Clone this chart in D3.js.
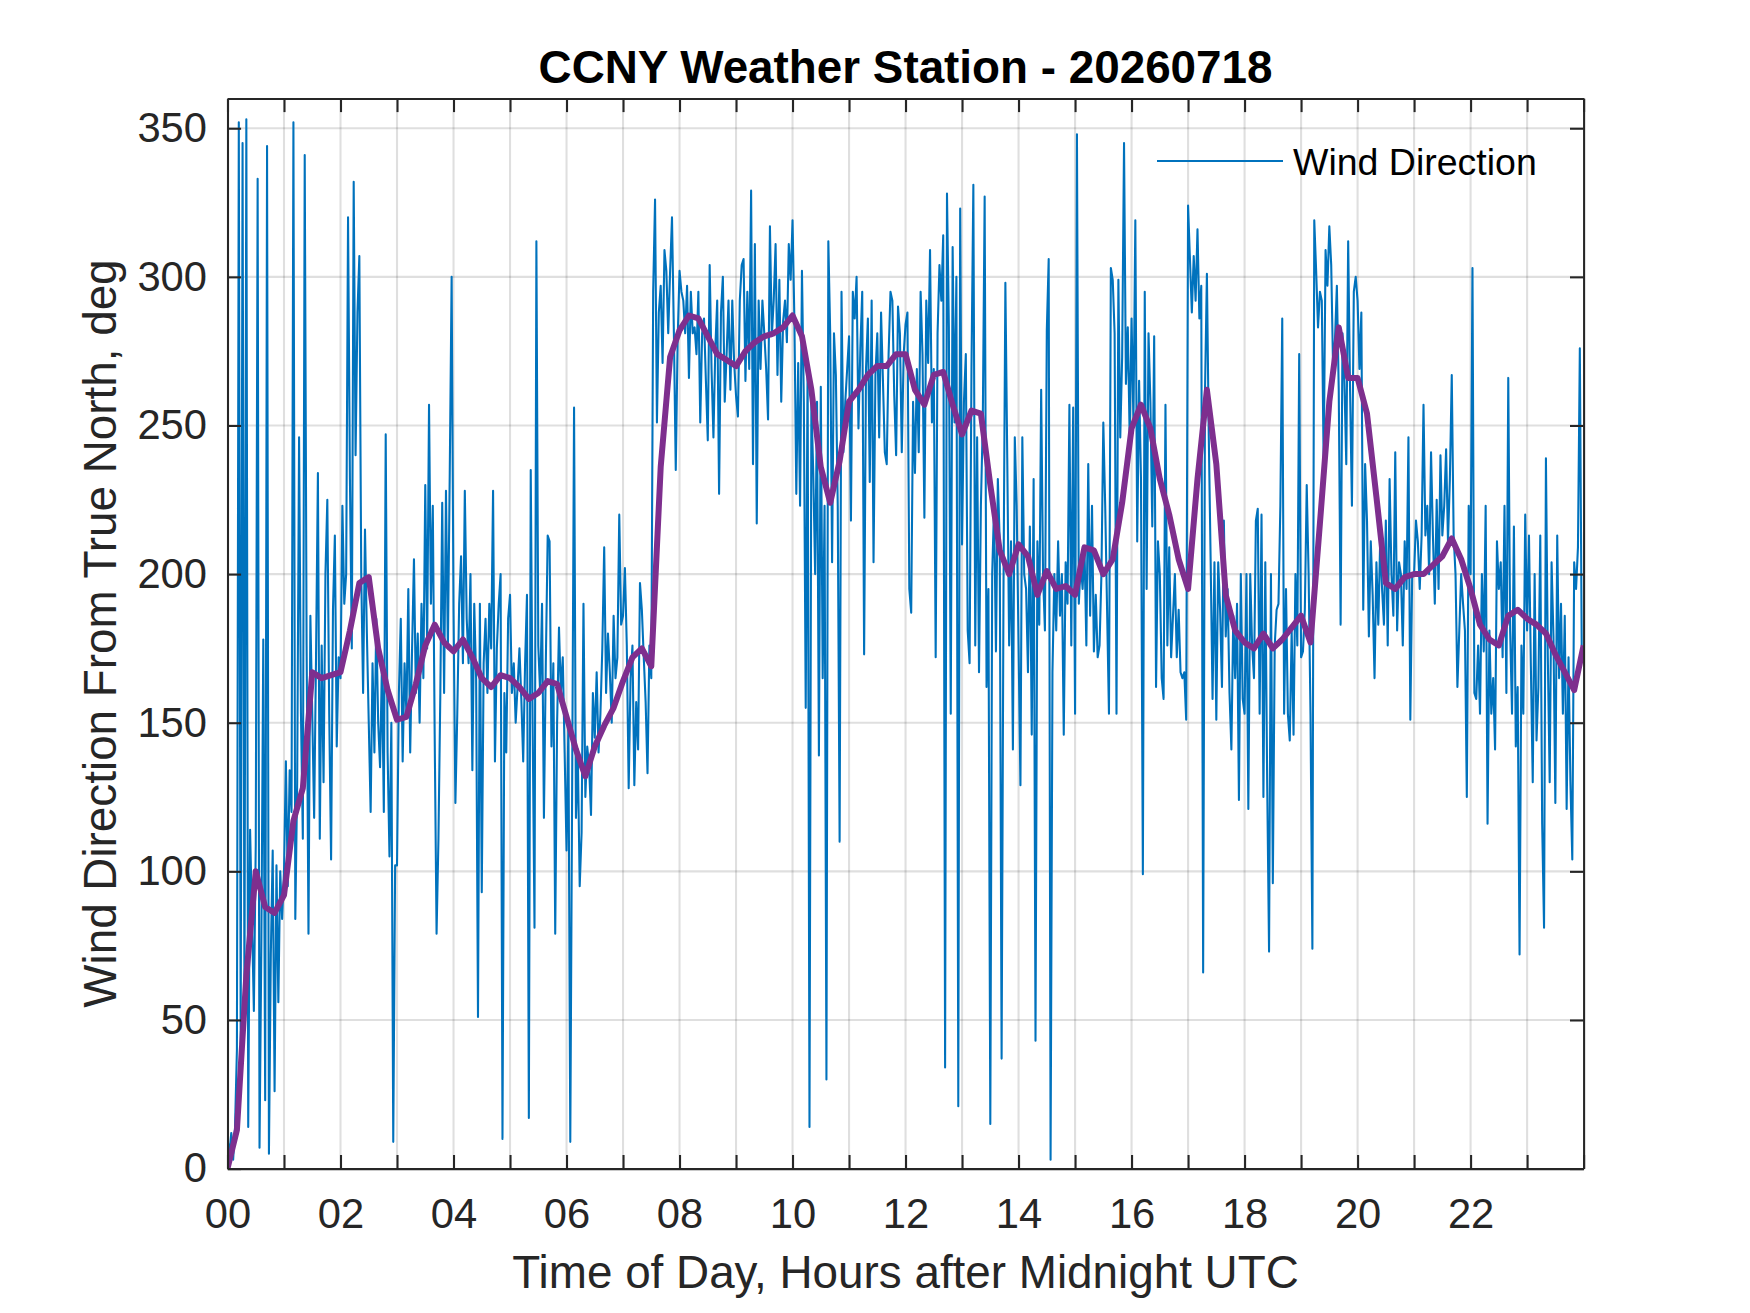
<!DOCTYPE html>
<html>
<head>
<meta charset="utf-8">
<script src="https://cdn.jsdelivr.net/npm/d3@7"></script>
<style>
  body { margin: 0; background: #fff; }
  svg { display: block; font-family: "Liberation Sans", Arial, sans-serif; }
</style>
</head>
<body>
<div id="viz-container"></div>
<script>
// wind direction, one sample every 2 minutes, one row per hour (deg from true north)
const stepMinutes = 2;
const windDir = [
  10,5,12,3,14,40,352,42,345,56,353,14,114,84,53,109,333,7,77,178,23,344,5,72,107,26,102,56,100,84,
  100,137,95,134,120,352,84,130,246,153,111,341,176,79,186,153,118,172,234,111,176,130,200,225,153,104,188,213,142,172,
  165,223,190,200,320,232,175,332,240,288,307,200,160,215,180,150,120,170,140,185,150,135,170,120,247,140,105,150,9,102,
  102,160,185,137,170,153,195,140,175,205,160,180,150,190,165,230,175,257,190,223,146,79,111,160,224,160,228,175,234,300,
  188,123,153,190,206,170,228,185,170,200,134,190,165,51,190,93,170,185,160,190,175,228,137,175,190,200,10,160,140,185,
  193,160,170,150,162,175,158,137,170,193,17,235,150,81,312,176,160,190,118,170,213,211,142,170,79,150,182,160,172,140,
  107,150,9,130,256,118,139,95,113,190,125,142,135,119,160,145,167,140,153,175,209,160,180,167,150,186,165,172,220,183,
  186,202,176,128,165,176,129,157,141,197,188,172,157,133,176,165,295,326,251,288,297,271,309,302,281,302,320,281,235,279,
  302,295,292,281,297,266,295,281,283,274,295,251,281,286,265,245,304,269,246,276,292,227,288,300,258,274,292,262,292,271,
  260,253,292,304,306,265,295,269,329,237,311,217,292,269,292,281,269,252,317,280,292,311,267,299,258,285,292,278,311,299,
  319,285,227,271,223,302,258,155,271,14,258,234,200,258,139,263,165,223,30,312,281,204,281,267,223,110,295,241,258,269,
  280,218,295,286,300,249,276,295,173,269,286,231,292,204,267,281,246,288,265,241,237,274,295,292,260,240,290,281,241,274,
  284,288,195,187,258,234,269,241,295,274,219,292,271,309,251,269,172,281,304,292,314,34,328,283,153,310,251,300,21,323,
  210,258,274,181,170,269,331,176,246,167,223,251,327,162,195,15,200,223,174,232,211,37,195,298,239,176,211,141,246,223,
  176,129,246,200,195,167,216,146,232,43,211,183,262,200,181,282,306,3,167,200,181,211,186,200,146,204,190,257,176,256,
  153,348,190,204,195,209,176,237,186,223,174,193,172,176,200,251,223,188,153,303,299,281,153,299,246,273,345,264,283,246,
  286,251,319,211,265,232,99,295,195,281,258,216,280,162,211,200,165,158,257,176,209,172,186,200,172,188,167,165,167,151,
  324,306,288,307,292,316,286,297,66,262,301,246,204,158,204,151,204,188,162,218,179,195,160,141,186,165,190,124,200,158,
  153,200,121,200,176,165,218,222,153,220,125,204,130,73,200,96,176,188,190,223,286,153,195,153,144,181,146,200,176,274,
  172,174,188,230,200,153,74,319,302,283,295,292,237,309,297,317,304,269,279,297,262,183,281,265,237,312,262,223,295,300,
  292,269,288,188,237,218,179,211,193,165,204,183,211,195,183,218,176,232,200,186,241,181,204,200,176,211,195,246,151,200,
  200,218,211,195,213,257,213,223,200,241,213,190,225,195,240,213,223,242,211,232,267,213,200,162,181,200,190,181,125,223,
  200,303,160,158,176,153,200,174,223,116,181,153,165,141,211,195,204,172,223,160,266,181,153,216,142,162,72,176,153,220,
  181,213,169,130,200,144,162,213,116,81,239,172,130,204,179,123,213,165,190,153,186,121,172,130,104,204,195,209,276,176
];

// smoothed direction, one value every 10 minutes
const avgStepMinutes = 10;
const windAvg = [
  0,13,65,100,88,86,      92,117,128,167,165,166,   167,181,197,199,175,161,   151,152,163,176,183,177,
  174,178,172,165,162,166, 165,162,158,160,164,163, 152,141,132,142,149,155,   164,172,175,169,236,273,
  282,287,286,280,274,272, 270,275,278,280,281,283, 287,280,262,236,224,238,   258,262,267,270,270,274,
  274,262,257,267,268,257, 247,255,254,230,208,200, 210,206,193,201,195,196,   193,209,208,200,205,224,
  249,257,249,232,220,205, 195,232,262,237,193,181, 177,175,180,175,178,182,   186,177,217,258,283,266,
  266,254,226,197,195,199, 200,200,203,206,212,205, 195,183,178,176,186,188,   185,183,180,173,167,161,
  176
];

const hourTicks = d3.range(0, 25, 1);
const degTicks = [0, 50, 100, 150, 200, 250, 300, 350];

const titleText = 'CCNY Weather Station - 20260718';
const xLabel = 'Time of Day, Hours after Midnight UTC';
const yLabel = 'Wind Direction From True North, deg';
const legendLabel = 'Wind Direction';

const width = 1750,
      height = 1313,
      margin = {top: 98.5, bottom: 144.4, left: 227.5, right: 166.4},
      innerW = width - margin.left - margin.right,
      innerH = height - margin.top - margin.bottom,
      axisColor = '#262626',
      blue = '#0072BD',
      purple = '#7E2F8E',
      tickLen = 13.6;

const x = d3.scaleLinear().domain([0, 24]).range([0, innerW]);
const y = d3.scaleLinear().domain([0, 360]).range([innerH, 0]);

const rawData = windDir.map((v, i) => ({h: i * stepMinutes / 60, v: v}));
const avgData = windAvg.map((v, i) => ({h: i * avgStepMinutes / 60, v: v}));

const svg = d3.select('#viz-container')
  .append('svg')
    .attr('width', width)
    .attr('height', height)
    .attr('viewBox', '0 0 ' + width + ' ' + height);

svg.append('rect').attr('width', width).attr('height', height).attr('fill', '#fff');

const g = svg.append('g')
  .attr('transform', 'translate(' + margin.left + ',' + margin.top + ')');

g.append('defs').append('clipPath').attr('id', 'plot-clip')
  .append('rect').attr('x', 0).attr('y', 0).attr('width', innerW).attr('height', innerH);

// grid
const grid = g.append('g').attr('class', 'grid');
grid.selectAll('line.vx')
  .data(hourTicks.filter(d => d > 0 && d < 24))
  .enter().append('line')
    .attr('x1', d => x(d)).attr('x2', d => x(d))
    .attr('y1', 0).attr('y2', innerH);
grid.selectAll('line.hy')
  .data(degTicks.filter(d => d > 0))
  .enter().append('line')
    .attr('x1', 0).attr('x2', innerW)
    .attr('y1', d => y(d)).attr('y2', d => y(d));
grid.selectAll('line')
  .attr('stroke', axisColor)
  .attr('stroke-opacity', 0.15)
  .attr('stroke-width', 2.08);

// data
const line = d3.line().x(d => x(d.h)).y(d => y(d.v));
const plot = g.append('g').attr('clip-path', 'url(#plot-clip)');
plot.append('path')
  .datum(rawData)
  .attr('d', line)
  .attr('fill', 'none')
  .attr('stroke', blue)
  .attr('stroke-width', 2.08)
  .attr('stroke-linejoin', 'round');
plot.append('path')
  .datum(avgData)
  .attr('d', line)
  .attr('fill', 'none')
  .attr('stroke', purple)
  .attr('stroke-width', 6)
  .attr('stroke-linejoin', 'round');

// axes, ticks pointing inward on all four sides
const styleAxis = sel => {
  sel.selectAll('path.domain').attr('stroke', axisColor).attr('stroke-width', 2.08);
  sel.selectAll('.tick line').attr('stroke', axisColor).attr('stroke-width', 2.08);
  sel.selectAll('.tick text')
    .attr('fill', axisColor)
    .style('font-family', '"Liberation Sans", Arial, sans-serif')
    .style('font-size', '41.7px');
};

g.append('g')
  .attr('transform', 'translate(0,' + innerH + ')')
  .call(d3.axisBottom(x).tickValues(hourTicks).tickSizeInner(-tickLen).tickSizeOuter(0).tickPadding(29.4)
    .tickFormat(d => d % 2 === 0 && d < 24 ? d3.format('02d')(d) : ''))
  .call(styleAxis);
g.append('g')
  .call(d3.axisTop(x).tickValues(hourTicks).tickSizeInner(-tickLen).tickSizeOuter(0).tickFormat(''))
  .call(styleAxis);
g.append('g')
  .call(d3.axisLeft(y).tickValues(degTicks).tickSizeInner(-tickLen).tickSizeOuter(0).tickPadding(20.5))
  .call(styleAxis);
g.append('g')
  .attr('transform', 'translate(' + innerW + ',0)')
  .call(d3.axisRight(y).tickValues(degTicks).tickSizeInner(-tickLen).tickSizeOuter(0).tickFormat(''))
  .call(styleAxis);

// labels
svg.append('text')
  .attr('x', margin.left + innerW / 2)
  .attr('y', 83)
  .attr('text-anchor', 'middle')
  .attr('font-weight', 'bold')
  .attr('font-size', 45.8)
  .attr('fill', '#000')
  .text(titleText);

svg.append('text')
  .attr('x', margin.left + innerW / 2)
  .attr('y', 1288)
  .attr('text-anchor', 'middle')
  .attr('font-size', 45.8)
  .attr('fill', axisColor)
  .text(xLabel);

svg.append('text')
  .attr('transform', 'translate(116,' + (margin.top + innerH / 2) + ') rotate(-90)')
  .attr('text-anchor', 'middle')
  .attr('font-size', 45.8)
  .attr('fill', axisColor)
  .text(yLabel);

// legend
const legend = svg.append('g').attr('transform', 'translate(1157,161)');
legend.append('line')
  .attr('x1', 0).attr('x2', 126)
  .attr('y1', 0).attr('y2', 0)
  .attr('stroke', blue)
  .attr('stroke-width', 2.08);
legend.append('text')
  .attr('x', 136)
  .attr('y', 14)
  .attr('font-size', 37.5)
  .attr('fill', '#000')
  .text(legendLabel);
</script>
</body>
</html>
